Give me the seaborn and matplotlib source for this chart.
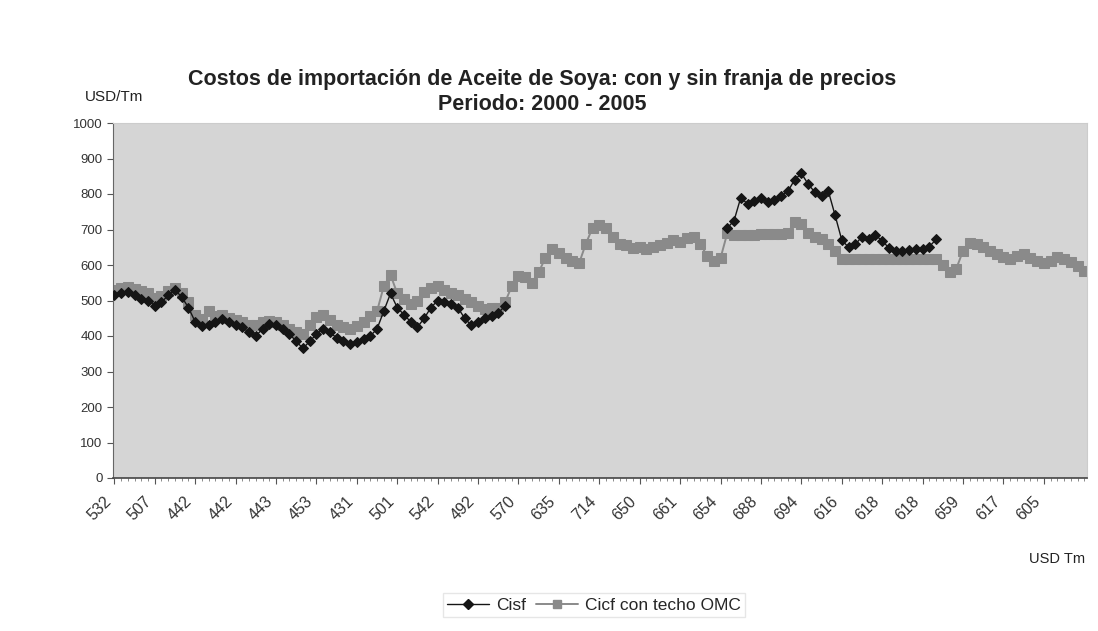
import numpy as np
import pandas as pd
import matplotlib
matplotlib.use("Agg")
import matplotlib.pyplot as plt
import matplotlib.transforms as mtransforms
from matplotlib.lines import Line2D
import seaborn as sns

nan = np.nan

# etiquetas del eje x (una cada 6 observaciones)
etiquetas = ['532', '507', '442', '442', '443', '453', '431', '501', '542', '492', '570', '635',
             '714', '650', '661', '654', '688', '694', '616', '618', '618', '659', '617', '605']
paso_etiqueta = 6

# Cicf con techo OMC (USD/Tm)
cicf = [530, 535, 538, 532, 528, 520, 508, 512, 528, 535,
        520, 495, 458, 448, 470, 455, 460, 452, 445, 440,
        432, 430, 440, 442, 440, 432, 420, 412, 405, 430,
        453, 460, 445, 430, 425, 420, 428, 440, 455, 470,
        540, 572, 520, 505, 490, 500, 525, 535, 542, 530,
        520, 515, 505, 495, 485, 475, 478, 480, 495, 540,
        570, 565, 550, 580, 620, 645, 635, 620, 610, 605,
        660, 705, 714, 705, 680, 660, 655, 648, 650, 645,
        650, 655, 662, 670, 665, 675, 680, 660, 625, 612,
        620, 690, 685, 685, 685, 685, 688, 688, 688, 688,
        690, 722, 715, 690, 680, 672, 660, 640, 616, 616,
        616, 616, 616, 616, 618, 618, 618, 618, 618, 618,
        618, 618, 616, 600, 580, 590, 640, 662, 658, 650,
        640, 630, 622, 618, 625, 630, 620, 612, 605, 610,
        622, 618, 608, 598, 582]

# Cisf (solo existe en dos tramos)
cisf = ([515, 520, 525, 515, 505, 500, 485, 495, 515, 530,
         510, 480, 440, 428, 432, 440, 448, 440, 432, 425,
         410, 400, 420, 435, 430, 420, 405, 385, 365, 385,
         405, 420, 410, 395, 385, 378, 382, 392, 400, 420,
         470, 520, 480, 460, 440, 425, 450, 480, 500, 495,
         490, 480, 450, 430, 440, 450, 455, 465, 485]
        + [nan] * 32
        + [704, 725, 790, 772, 780, 790, 778, 782, 795, 808,
           840, 858, 828, 805, 795, 808, 740, 670, 650, 658,
           680, 672, 684, 668, 648, 640, 640, 642, 645, 645,
           652, 672]
        + [nan] * 22)

df = pd.DataFrame({'obs': np.arange(len(cicf)), 'Cisf': cisf, 'Cicf': cicf})
# tramos continuos para no unir los huecos
df['tramo'] = df['Cisf'].isna().cumsum()

sns.set_style('white')
plt.rcParams['font.family'] = ['Liberation Sans', 'DejaVu Sans']

fig = plt.figure(figsize=(10.98, 6.31), dpi=100)
ax = fig.add_axes([113 / 1098, 1 - 478 / 631, 974 / 1098, 355 / 631])
ax.set_facecolor('#d5d5d5')

gris = '#8a8a8a'
negro = '#151515'

sns.lineplot(data=df, x='obs', y='Cicf', color=gris, marker='s', markersize=6.5,
             markeredgecolor=gris, linewidth=1.4, ax=ax, zorder=2)
sns.lineplot(data=df.dropna(subset=['Cisf']), x='obs', y='Cisf', units='tramo', estimator=None,
             color=negro, marker='D', markersize=5.5, markeredgecolor=negro,
             linewidth=1, ax=ax, zorder=3)

ax.set_xlim(-0.2, len(cicf) - 0.6)
ax.set_ylim(0, 1000)
ax.set_yticks(range(0, 1001, 100))
ax.set_xticks(range(0, len(etiquetas) * paso_etiqueta, paso_etiqueta))
ax.set_xticklabels(etiquetas, rotation=45, ha='right', rotation_mode='anchor')
ax.set_xticks(range(len(cicf)), minor=True)
ax.tick_params(axis='x', which='major', length=4, color='#555555', labelsize=11.5,
               labelcolor='#333333', pad=7, direction='out', bottom=True)
ax.tick_params(axis='x', which='minor', length=2.5, color='#777777', bottom=True)
ax.tick_params(axis='y', length=4, color='#555555', labelsize=9.5, labelcolor='#333333',
               direction='out', left=True)
# las etiquetas quedan algo a la izquierda de su marca
desplazar = mtransforms.ScaledTranslation(-11 / 100, 0, fig.dpi_scale_trans)
for lab in ax.get_xticklabels():
    lab.set_transform(lab.get_transform() + desplazar)
ax.set_xlabel('')
ax.set_ylabel('')

for lado in ['top', 'right']:
    ax.spines[lado].set_color('#cccccc')
    ax.spines[lado].set_linewidth(0.8)
ax.spines['left'].set_color('#666666')
ax.spines['bottom'].set_color('#444444')
ax.spines['bottom'].set_linewidth(1.2)

fig.text(0.494, 1 - 80 / 631, 'Costos de importación de Aceite de Soya: con y sin franja de precios',
         ha='center', va='center', fontsize=15.5, fontweight='bold', color='#222222')
fig.text(0.494, 1 - 105 / 631, 'Periodo: 2000 - 2005',
         ha='center', va='center', fontsize=15.5, fontweight='bold', color='#222222')
fig.text(85 / 1098, 1 - 97 / 631, 'USD/Tm', ha='left', va='center', fontsize=11, color='#222222')
fig.text(1085 / 1098, 1 - 559 / 631, 'USD Tm', ha='right', va='center', fontsize=10.5, color='#222222')

manijas = [Line2D([], [], color=negro, marker='D', markersize=5, linewidth=1),
           Line2D([], [], color=gris, marker='s', markersize=5.5, linewidth=1.4)]
fig.legend(manijas, ['Cisf', 'Cicf con techo OMC'], loc='center', bbox_to_anchor=(594 / 1098, 1 - 605 / 631),
           ncol=2, frameon=True, fontsize=12.5, handlelength=2.4, columnspacing=0.6, handletextpad=0.4,
           edgecolor='#e0e0e0', fancybox=False, borderpad=0.25)

fig.savefig('out.png', dpi=100, facecolor='white')
